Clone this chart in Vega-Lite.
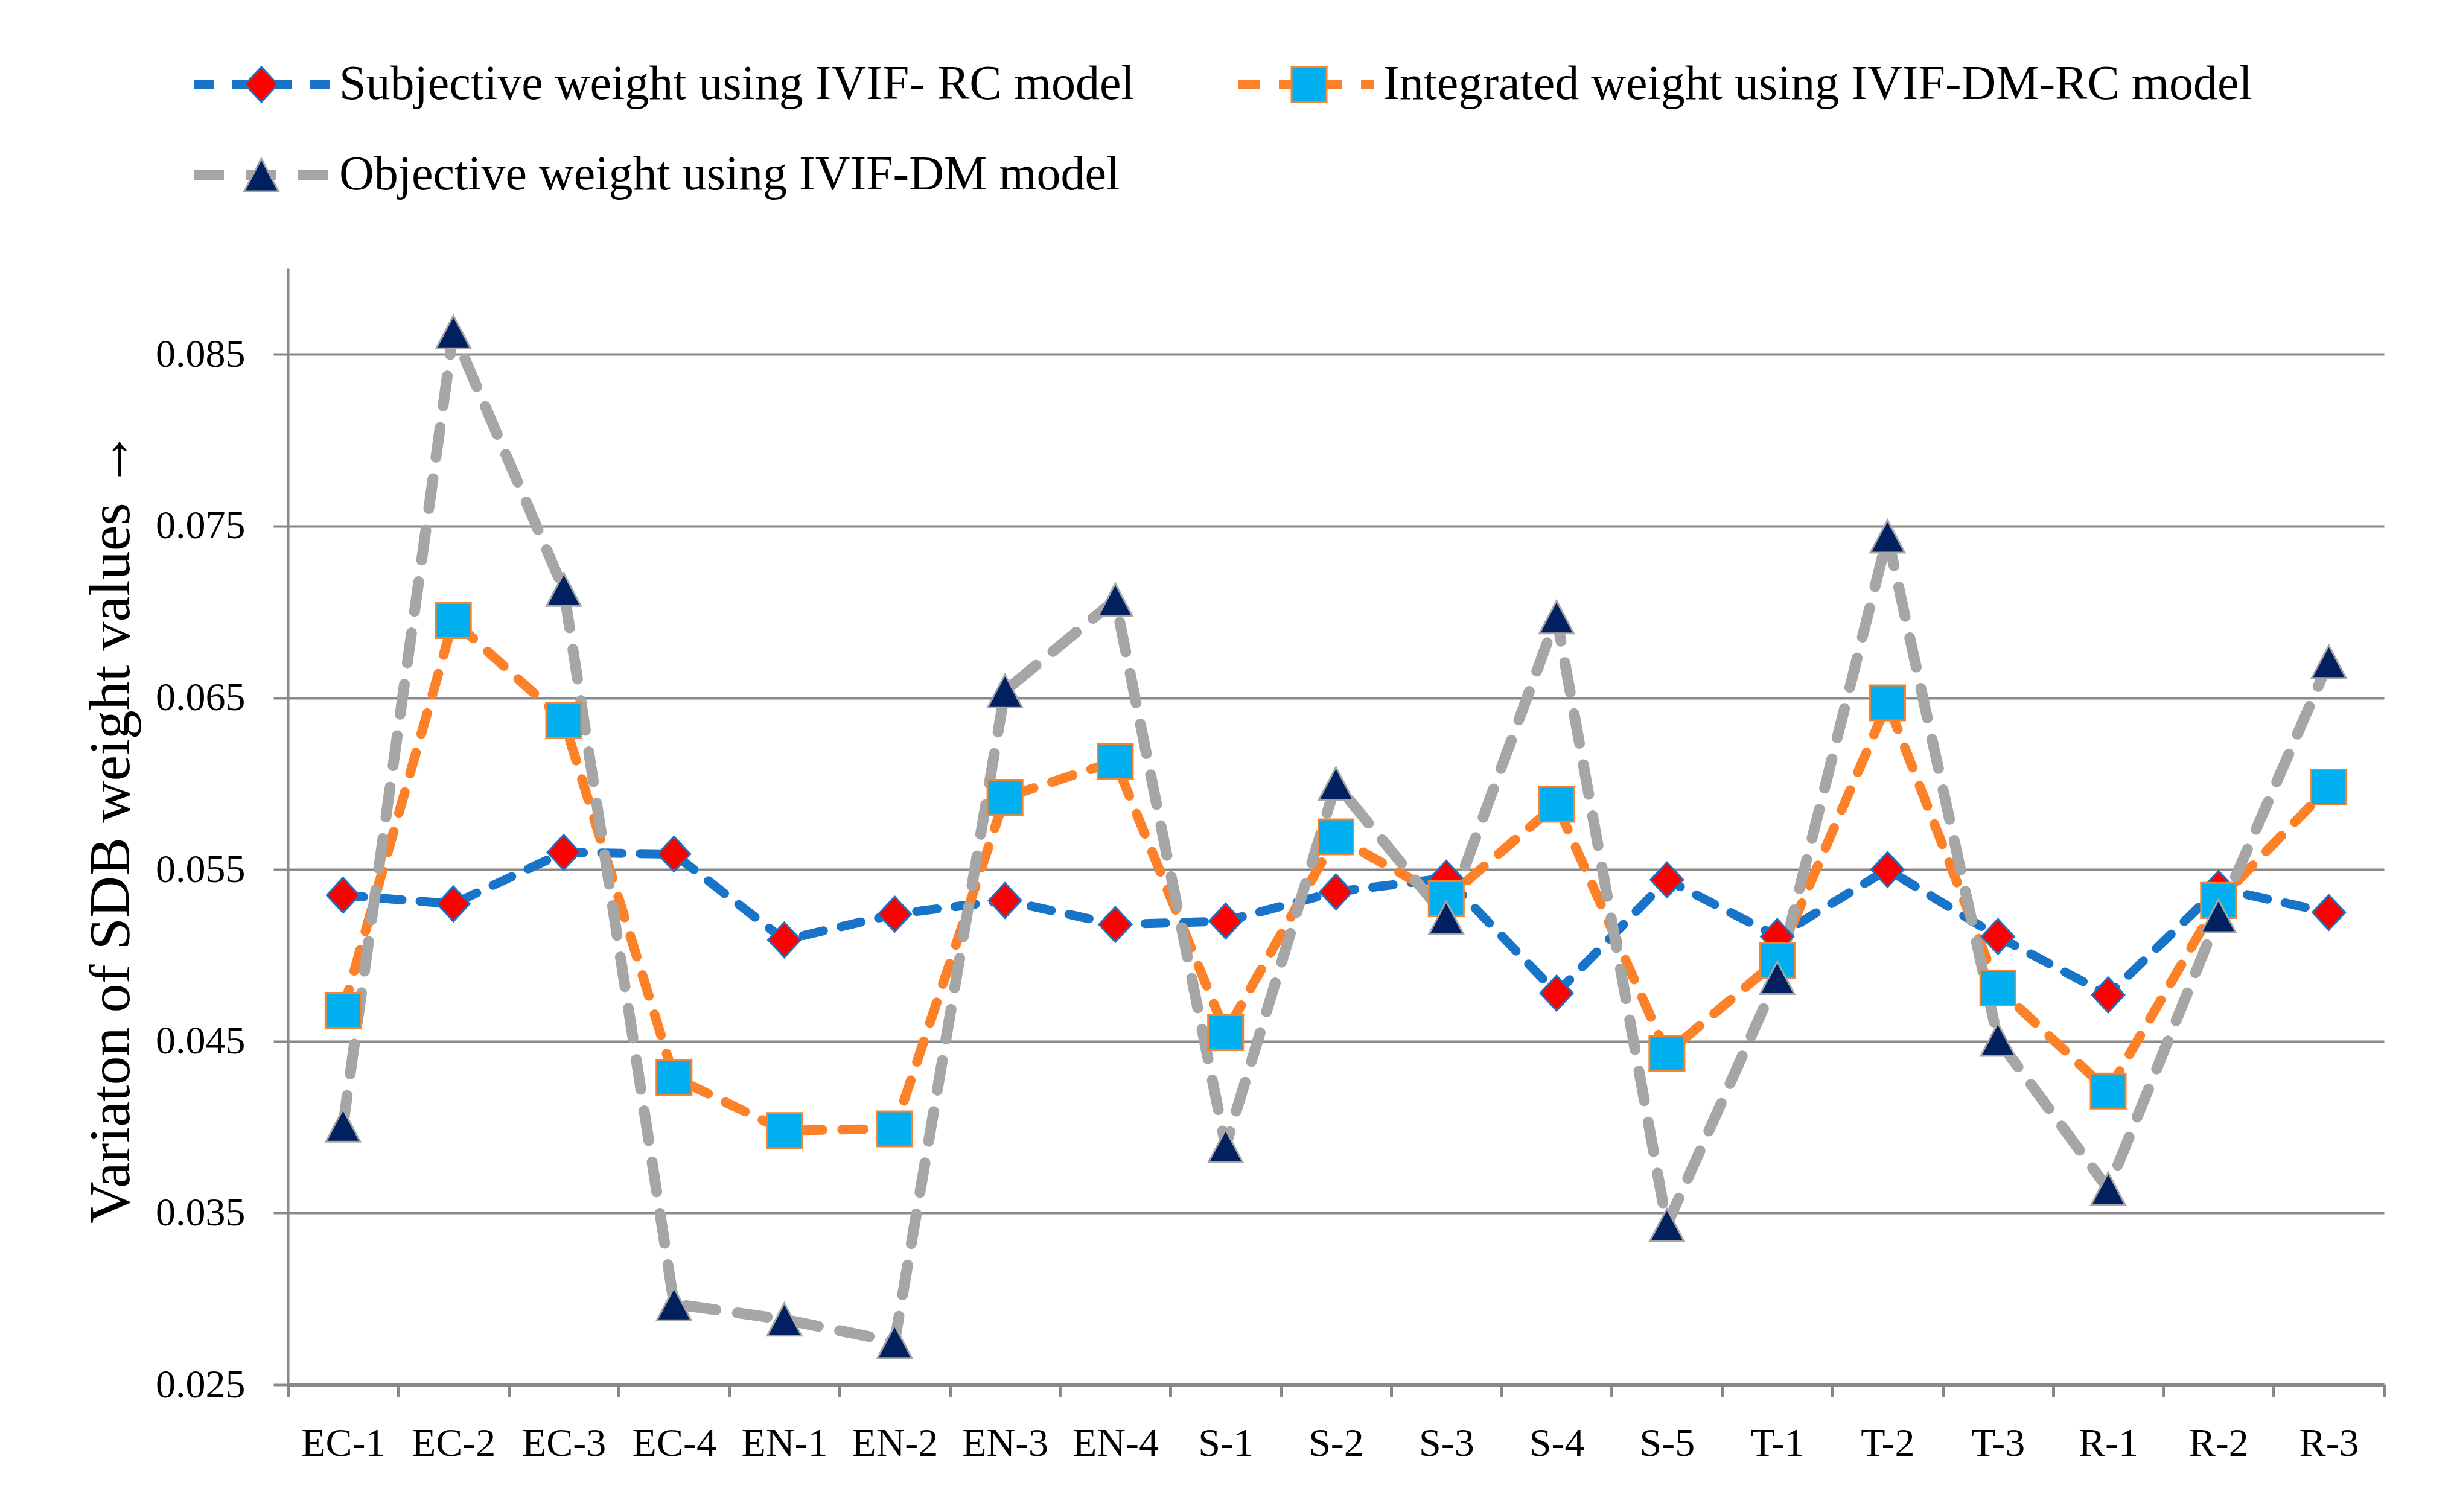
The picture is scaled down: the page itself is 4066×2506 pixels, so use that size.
{
  "$schema": "https://vega.github.io/schema/vega-lite/v6.json",
  "width": 3473,
  "height": 1850,
  "autosize": {"type": "none"},
  "padding": {"left": 477, "top": 445, "right": 116, "bottom": 211},
  "background": "white",
  "config": {"view": {"stroke": null}, "font": "Liberation Serif"},
  "data": {
    "values": [
      {"criterion": "EC-1", "series": "Subjective weight using IVIF- RC model", "weight": 0.0535},
      {"criterion": "EC-2", "series": "Subjective weight using IVIF- RC model", "weight": 0.0530},
      {"criterion": "EC-3", "series": "Subjective weight using IVIF- RC model", "weight": 0.0560},
      {"criterion": "EC-4", "series": "Subjective weight using IVIF- RC model", "weight": 0.0559},
      {"criterion": "EN-1", "series": "Subjective weight using IVIF- RC model", "weight": 0.0509},
      {"criterion": "EN-2", "series": "Subjective weight using IVIF- RC model", "weight": 0.0524},
      {"criterion": "EN-3", "series": "Subjective weight using IVIF- RC model", "weight": 0.0532},
      {"criterion": "EN-4", "series": "Subjective weight using IVIF- RC model", "weight": 0.0518},
      {"criterion": "S-1", "series": "Subjective weight using IVIF- RC model", "weight": 0.0520},
      {"criterion": "S-2", "series": "Subjective weight using IVIF- RC model", "weight": 0.0537},
      {"criterion": "S-3", "series": "Subjective weight using IVIF- RC model", "weight": 0.0545},
      {"criterion": "S-4", "series": "Subjective weight using IVIF- RC model", "weight": 0.0478},
      {"criterion": "S-5", "series": "Subjective weight using IVIF- RC model", "weight": 0.0544},
      {"criterion": "T-1", "series": "Subjective weight using IVIF- RC model", "weight": 0.0511},
      {"criterion": "T-2", "series": "Subjective weight using IVIF- RC model", "weight": 0.0550},
      {"criterion": "T-3", "series": "Subjective weight using IVIF- RC model", "weight": 0.0511},
      {"criterion": "R-1", "series": "Subjective weight using IVIF- RC model", "weight": 0.0477},
      {"criterion": "R-2", "series": "Subjective weight using IVIF- RC model", "weight": 0.0539},
      {"criterion": "R-3", "series": "Subjective weight using IVIF- RC model", "weight": 0.0525},
      {"criterion": "EC-1", "series": "Integrated weight using IVIF-DM-RC model", "weight": 0.0468},
      {"criterion": "EC-2", "series": "Integrated weight using IVIF-DM-RC model", "weight": 0.0695},
      {"criterion": "EC-3", "series": "Integrated weight using IVIF-DM-RC model", "weight": 0.0637},
      {"criterion": "EC-4", "series": "Integrated weight using IVIF-DM-RC model", "weight": 0.0429},
      {"criterion": "EN-1", "series": "Integrated weight using IVIF-DM-RC model", "weight": 0.0398},
      {"criterion": "EN-2", "series": "Integrated weight using IVIF-DM-RC model", "weight": 0.0399},
      {"criterion": "EN-3", "series": "Integrated weight using IVIF-DM-RC model", "weight": 0.0592},
      {"criterion": "EN-4", "series": "Integrated weight using IVIF-DM-RC model", "weight": 0.0613},
      {"criterion": "S-1", "series": "Integrated weight using IVIF-DM-RC model", "weight": 0.0455},
      {"criterion": "S-2", "series": "Integrated weight using IVIF-DM-RC model", "weight": 0.0569},
      {"criterion": "S-3", "series": "Integrated weight using IVIF-DM-RC model", "weight": 0.0533},
      {"criterion": "S-4", "series": "Integrated weight using IVIF-DM-RC model", "weight": 0.0588},
      {"criterion": "S-5", "series": "Integrated weight using IVIF-DM-RC model", "weight": 0.0443},
      {"criterion": "T-1", "series": "Integrated weight using IVIF-DM-RC model", "weight": 0.0497},
      {"criterion": "T-2", "series": "Integrated weight using IVIF-DM-RC model", "weight": 0.0647},
      {"criterion": "T-3", "series": "Integrated weight using IVIF-DM-RC model", "weight": 0.0481},
      {"criterion": "R-1", "series": "Integrated weight using IVIF-DM-RC model", "weight": 0.0421},
      {"criterion": "R-2", "series": "Integrated weight using IVIF-DM-RC model", "weight": 0.0532},
      {"criterion": "R-3", "series": "Integrated weight using IVIF-DM-RC model", "weight": 0.0598},
      {"criterion": "EC-1", "series": "Objective weight using IVIF-DM model", "weight": 0.0401},
      {"criterion": "EC-2", "series": "Objective weight using IVIF-DM model", "weight": 0.0863},
      {"criterion": "EC-3", "series": "Objective weight using IVIF-DM model", "weight": 0.0713},
      {"criterion": "EC-4", "series": "Objective weight using IVIF-DM model", "weight": 0.0297},
      {"criterion": "EN-1", "series": "Objective weight using IVIF-DM model", "weight": 0.0288},
      {"criterion": "EN-2", "series": "Objective weight using IVIF-DM model", "weight": 0.0275},
      {"criterion": "EN-3", "series": "Objective weight using IVIF-DM model", "weight": 0.0654},
      {"criterion": "EN-4", "series": "Objective weight using IVIF-DM model", "weight": 0.0707},
      {"criterion": "S-1", "series": "Objective weight using IVIF-DM model", "weight": 0.0389},
      {"criterion": "S-2", "series": "Objective weight using IVIF-DM model", "weight": 0.0600},
      {"criterion": "S-3", "series": "Objective weight using IVIF-DM model", "weight": 0.0522},
      {"criterion": "S-4", "series": "Objective weight using IVIF-DM model", "weight": 0.0697},
      {"criterion": "S-5", "series": "Objective weight using IVIF-DM model", "weight": 0.0343},
      {"criterion": "T-1", "series": "Objective weight using IVIF-DM model", "weight": 0.0487},
      {"criterion": "T-2", "series": "Objective weight using IVIF-DM model", "weight": 0.0744},
      {"criterion": "T-3", "series": "Objective weight using IVIF-DM model", "weight": 0.0451},
      {"criterion": "R-1", "series": "Objective weight using IVIF-DM model", "weight": 0.0364},
      {"criterion": "R-2", "series": "Objective weight using IVIF-DM model", "weight": 0.0523},
      {"criterion": "R-3", "series": "Objective weight using IVIF-DM model", "weight": 0.0671}
    ]
  },
  "encoding": {
    "x": {
      "field": "criterion",
      "type": "nominal",
      "sort": ["EC-1", "EC-2", "EC-3", "EC-4", "EN-1", "EN-2", "EN-3", "EN-4", "S-1", "S-2", "S-3", "S-4", "S-5", "T-1", "T-2", "T-3", "R-1", "R-2", "R-3"],
      "scale": {"type": "band", "paddingInner": 0, "paddingOuter": 0},
      "axis": {
        "title": null,
        "labelAngle": 0,
        "labelFontSize": 66,
        "labelColor": "black",
        "labelPadding": 45,
        "tickSize": 20,
        "tickWidth": 5,
        "tickColor": "#898989",
        "domainColor": "#898989",
        "domainWidth": 5,
        "tickBand": "extent",
        "grid": false
      }
    },
    "y": {
      "field": "weight",
      "type": "quantitative",
      "scale": {"domain": [0.025, 0.09], "nice": false, "zero": false},
      "axis": {
        "values": [0.025, 0.035, 0.045, 0.055, 0.065, 0.075, 0.085],
        "format": ".3f",
        "title": "Variaton of SDB weight values →",
        "titleFontSize": 96,
        "titleFontWeight": "normal",
        "titleColor": "black",
        "titlePadding": 44,
        "labelFontSize": 66,
        "labelColor": "black",
        "labelPadding": 47,
        "tickSize": 24,
        "tickWidth": 4,
        "tickColor": "#898989",
        "domainColor": "#898989",
        "domainWidth": 4,
        "grid": true,
        "gridColor": "#898989",
        "gridWidth": 4
      }
    }
  },
  "layer": [
    {
      "mark": {"type": "line", "strokeCap": "round", "strokeJoin": "round"},
      "encoding": {
        "color": {
          "field": "series",
          "type": "nominal",
          "scale": {
            "domain": ["Subjective weight using IVIF- RC model", "Integrated weight using IVIF-DM-RC model", "Objective weight using IVIF-DM model"],
            "range": ["#1874C8", "#FD8128", "#A6A6A6"]
          },
          "legend": {
            "orient": "none",
            "direction": "horizontal",
            "legendX": -165,
            "legendY": -380,
            "title": null,
            "columns": 2,
            "columnPadding": 162,
            "rowPadding": 0,
            "clipHeight": 150,
            "padding": 0,
            "labelFontSize": 80,
            "labelColor": "black",
            "labelOffset": 6,
            "labelLimit": 3000,
            "symbolType": "stroke",
            "symbolSize": 51076,
            "symbolStrokeWidth": 16,
            "symbolDash": [49, 17]
          }
        },
        "strokeWidth": {
          "field": "series",
          "type": "nominal",
          "scale": {
            "type": "ordinal",
            "domain": ["Subjective weight using IVIF- RC model", "Integrated weight using IVIF-DM-RC model", "Objective weight using IVIF-DM model"],
            "range": [15, 16, 18]
          },
          "legend": null
        },
        "strokeDash": {
          "field": "series",
          "type": "nominal",
          "scale": {
            "domain": ["Subjective weight using IVIF- RC model", "Integrated weight using IVIF-DM-RC model", "Objective weight using IVIF-DM model"],
            "range": [[34, 30], [36, 32], [50, 36]]
          },
          "legend": null
        }
      }
    },
    {
      "mark": {"type": "point", "filled": true, "opacity": 1, "size": 57121, "strokeWidth": 3},
      "encoding": {
        "shape": {
          "field": "series",
          "type": "nominal",
          "scale": {
            "domain": ["Subjective weight using IVIF- RC model", "Integrated weight using IVIF-DM-RC model", "Objective weight using IVIF-DM model"],
            "range": [
              "M-1,0M1,0M0,-0.243L0.226,0L0,0.243L-0.226,0Z",
              "M-1,0M1,0M-0.243,-0.243L0.243,-0.243L0.243,0.243L-0.243,0.243Z",
              "M-1,0M1,0M0,-0.226L0.238,0.226L-0.238,0.226Z"
            ]
          },
          "legend": {
            "orient": "none",
            "direction": "horizontal",
            "legendX": -165,
            "legendY": -380,
            "title": null,
            "columns": 2,
            "columnPadding": 139,
            "rowPadding": 0,
            "clipHeight": 150,
            "padding": 0,
            "labelFontSize": 80,
            "labelExpr": "''",
            "labelOffset": 1355,
            "symbolSize": 57121,
            "symbolStrokeWidth": 3
          }
        },
        "fill": {
          "field": "series",
          "type": "nominal",
          "scale": {
            "domain": ["Subjective weight using IVIF- RC model", "Integrated weight using IVIF-DM-RC model", "Objective weight using IVIF-DM model"],
            "range": ["#FF0000", "#00B0F0", "#002060"]
          },
          "legend": {
            "orient": "none",
            "direction": "horizontal",
            "legendX": -165,
            "legendY": -380,
            "title": null,
            "columns": 2,
            "columnPadding": 139,
            "rowPadding": 0,
            "clipHeight": 150,
            "padding": 0,
            "labelFontSize": 80,
            "labelExpr": "''",
            "labelOffset": 1355,
            "symbolSize": 57121,
            "symbolStrokeWidth": 3
          }
        },
        "stroke": {
          "field": "series",
          "type": "nominal",
          "scale": {
            "domain": ["Subjective weight using IVIF- RC model", "Integrated weight using IVIF-DM-RC model", "Objective weight using IVIF-DM model"],
            "range": ["#1874C8", "#FD8128", "#A6A6A6"]
          },
          "legend": {
            "orient": "none",
            "direction": "horizontal",
            "legendX": -165,
            "legendY": -380,
            "title": null,
            "columns": 2,
            "columnPadding": 139,
            "rowPadding": 0,
            "clipHeight": 150,
            "padding": 0,
            "labelFontSize": 80,
            "labelExpr": "''",
            "labelOffset": 1355,
            "symbolSize": 57121,
            "symbolStrokeWidth": 3
          }
        }
      }
    }
  ],
  "resolve": {
    "scale": {"color": "independent", "stroke": "independent", "fill": "independent", "shape": "independent", "strokeWidth": "independent", "strokeDash": "independent"}
  }
}
